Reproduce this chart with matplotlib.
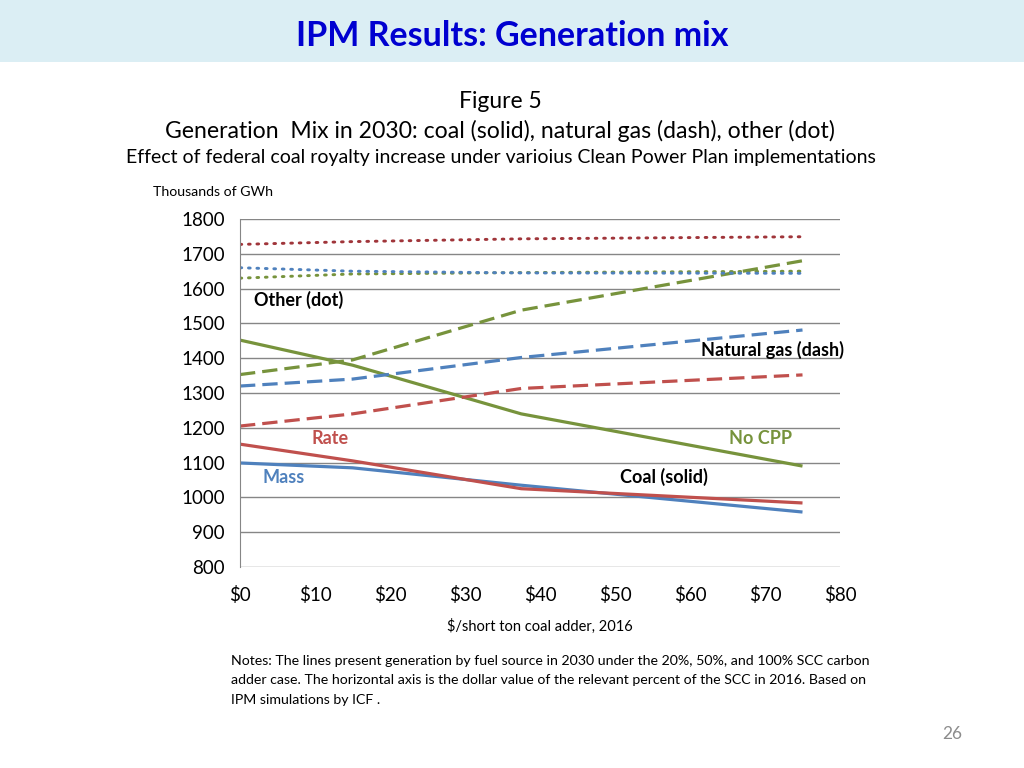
import matplotlib
matplotlib.use('Agg')
import matplotlib.pyplot as plt
from matplotlib.patches import Rectangle

plt.rcParams['font.family'] = ['Lato', 'DejaVu Sans']

# $/short ton coal adder (0, 20%, 50%, 100% of SCC)
adder = [0, 15, 37.5, 75]

# thousands of GWh, by CPP case and fuel
nocpp_coal = [1452, 1380, 1240, 1090]
nocpp_gas = [1353, 1395, 1538, 1680]
nocpp_other = [1630, 1642, 1646, 1650]

mass_coal = [1099, 1085, 1035, 958]
mass_gas = [1320, 1340, 1402, 1481]
mass_other = [1660, 1650, 1645, 1644]

rate_coal = [1153, 1105, 1025, 984]
rate_gas = [1205, 1240, 1313, 1352]
rate_other = [1727, 1735, 1743, 1749]

yticks = list(range(800, 1801, 100))
xticks = list(range(0, 81, 10))

green = '#77933C'
blue = '#4F81BD'
red = '#C0504D'

fig = plt.figure(figsize=(10.24, 7.68), dpi=100)

# header band
fig.patches.append(Rectangle((0, 1 - 62/768), 1, 62/768, transform=fig.transFigure,
                             facecolor='#DBEEF4', edgecolor='none', zorder=0))
fig.text(0.5, 1 - 36/768, 'IPM Results: Generation mix', ha='center', va='center',
         fontsize=24.5, fontweight='bold', color='#0000D0')

fig.text(500/1024, 1 - 101/768, 'Figure 5', ha='center', va='center', fontsize=16.5)
fig.text(500/1024, 1 - 131/768, 'Generation  Mix in 2030: coal (solid), natural gas (dash), other (dot)',
         ha='center', va='center', fontsize=16.6)
fig.text(501/1024, 1 - 158/768, 'Effect of federal coal royalty increase under varioius Clean Power Plan implementations',
         ha='center', va='center', fontsize=14)
fig.text(153/1024, 1 - 192/768, 'Thousands of GWh', ha='left', va='center', fontsize=10.2)

ax = fig.add_axes([240/1024, 1 - 567/768, 600/1024, 348/768])

solid = dict(lw=2.3, solid_capstyle='butt')
dash = dict(lw=2.3, ls=(0, (4.8, 2.2)))
dot = dict(lw=2.1, ls=(0, (0.6, 2.3)), dash_capstyle='round')

ax.plot(adder, nocpp_coal, color=green, **solid)
ax.plot(adder, mass_coal, color=blue, **solid)
ax.plot(adder, rate_coal, color=red, **solid)
ax.plot(adder, nocpp_gas, color=green, **dash)
ax.plot(adder, mass_gas, color=blue, **dash)
ax.plot(adder, rate_gas, color=red, **dash)
ax.plot(adder, nocpp_other, color=green, **dot)
ax.plot(adder, mass_other, color=blue, **dot)
ax.plot(adder, rate_other, color='#A0353A', **dot)

ax.set_xlim(0, 80)
ax.set_ylim(800, 1800)
ax.set_yticks(yticks)
ax.set_xticks(xticks)
ax.set_xticklabels(['$' + str(v) for v in xticks])
ax.tick_params(axis='both', labelsize=13.5, length=0)
ax.tick_params(axis='y', pad=11)
ax.tick_params(axis='x', pad=14)
ax.yaxis.grid(True, color='#868686', lw=1)
ax.set_axisbelow(True)
for s in ['top', 'right', 'bottom']:
    ax.spines[s].set_visible(False)
ax.spines['left'].set_color('#868686')

lab = dict(fontsize=13, fontweight='bold', va='center')
ax.text(1.8, 1566, 'Other (dot)', **lab)
ax.text(61.5, 1424, 'Natural gas (dash)', **lab)
ax.text(9.5, 1170, 'Rate', color=red, **lab)
ax.text(65.2, 1170, 'No CPP', color=green, **lab)
ax.text(3, 1056, 'Mass', color=blue, **lab)
ax.text(50.7, 1059, 'Coal (solid)', **lab)

fig.text(540/1024, 1 - 626/768, '$/short ton coal adder, 2016', ha='center', va='center', fontsize=10.5)

notes = ('Notes: The lines present generation by fuel source in 2030 under the 20%, 50%, and 100% SCC carbon\n'
         'adder case. The horizontal axis is the dollar value of the relevant percent of the SCC in 2016. Based on\n'
         'IPM simulations by ICF .')
fig.text(231/1024, 1 - 655/768, notes, ha='left', va='top', fontsize=10.2, linespacing=1.75)

fig.text(952/1024, 1 - 734/768, '26', ha='center', va='center', fontsize=12.5, color='#8C8C8C')

fig.savefig('out.png', dpi=100)
